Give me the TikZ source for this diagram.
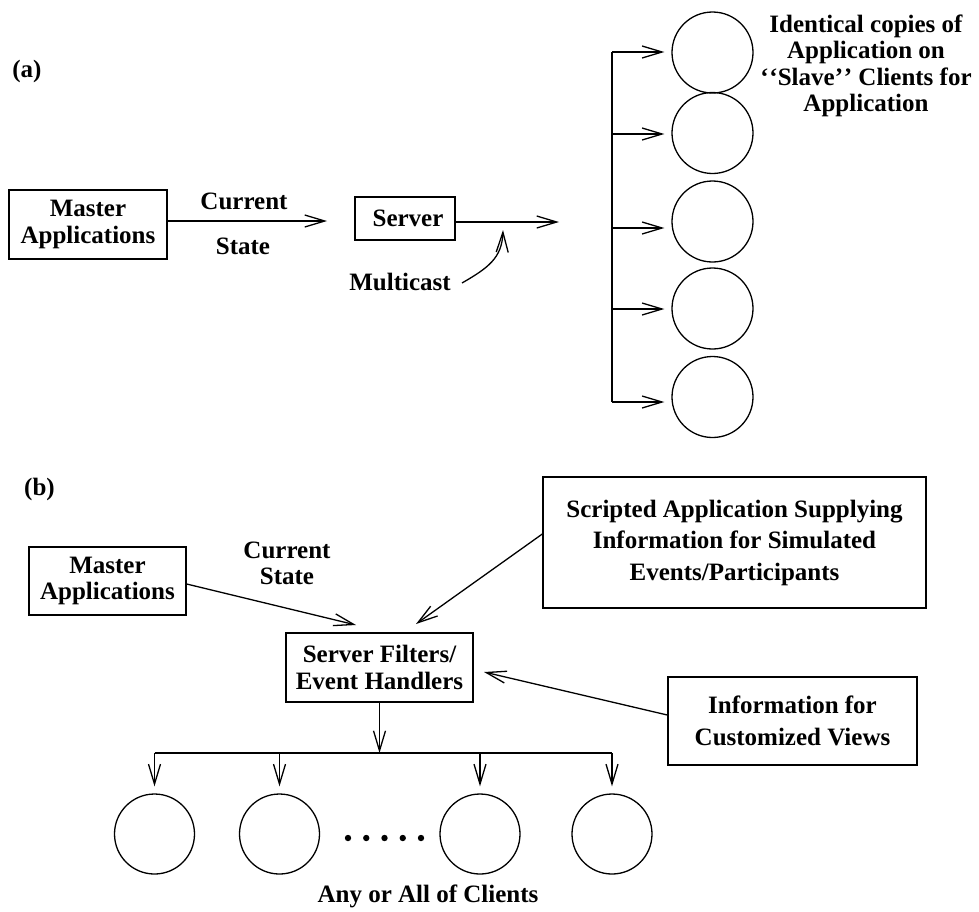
\documentclass[tikz,border=0pt]{standalone}
\usepackage{fontspec}
\setmainfont{Liberation Serif}
\usetikzlibrary{arrows.meta,calc}
\begin{document}
\begin{tikzpicture}[x=0.5pt,y=-0.5pt,
  every node/.style={font=\fontsize{12.5pt}{13.25pt}\selectfont\bfseries, inner sep=0pt},
  box/.style={draw, line width=0.7pt, align=center},
  widebox/.style={box, font=\fontsize{12.5pt}{15.75pt}\selectfont\bfseries},
  client/.style={draw, circle, line width=0.65pt, minimum size=40.5pt},
  arr/.style={-{Straight Barb[length=10pt,width=6pt]}, line width=0.65pt},
  wire/.style={line width=0.65pt},
  lab/.style={align=center}]
\useasboundingbox (0,0) rectangle (979,911);

% ---------------- (a) ----------------
\node (la) at (27,71) {(a)};
\node[box, minimum width=79pt, minimum height=34.5pt] (mA) at (88,224.5) {Master\\Applications};
\node[box, minimum width=50pt, minimum height=21.5pt] (srv) at (405,218.5) {\hspace*{3pt}Server};
\node[anchor=base] (cur) at (244,209) {Current};
\node[anchor=base] (st) at (243,254) {State};
\node[anchor=base] (mc) at (400,290) {Multicast};
\coordinate (c1) at (327,221);
\coordinate (c2) at (559,222);
\draw[arr] (mA.east |- c1) -- (c1);
\draw[arr] (srv.east |- c2) -- (c2);
\coordinate (mcS) at (462,283);
\coordinate (mcE) at (503,230);
\draw[arr] (mcS) .. controls (488,268) and (502,258) .. (mcE);

\foreach \i/\y/\ay in {1/52.5/52, 2/133/134, 3/221.5/228, 4/308.5/309, 5/397/402} {
  \node[client] (ca\i) at (712.5,\y) {};
  \coordinate (ba\i) at (612,\ay);
  \draw[arr, shorten >=3.5pt] (ba\i) -- (ba\i -| ca\i.west);
}
\draw[wire] (ba1) -- (ba5);

\node[lab] (ident) at (866,66) {Identical copies of\\Application on\\‘\kern0.4pt‘Slave’\kern0.4pt’ Clients for\\Application};

% ---------------- (b) ----------------
\node (lb) at (39.5,489.5) {(b)};
\node[box, minimum width=78.5pt, minimum height=34pt] (mB) at (107.5,581) {Master\\Applications};
\node[lab] (cs) at (287,563.5) {Current\\State};
\node[widebox, minimum width=191.5pt, minimum height=65.5pt] (scr) at (734.5,542.5) {Scripted Application Supplying\\Information for Simulated\\Events/Participants};
\node[box, minimum width=93.5pt, minimum height=34.5pt] (sf) at (379.5,667.5) {Server Filters/\\Event Handlers};
\node[widebox, minimum width=124.5pt, minimum height=44pt] (info) at (792.5,721) {Information for\\Customized Views};

\coordinate (t1) at (356,625);
\coordinate (t2) at (416,624);
\coordinate (t3) at (484,672);
\draw[arr] ([yshift=-1.5pt]mB.east) -- (t1);
\draw[arr] ([yshift=4.25pt]scr.west) -- (t2);
\draw[arr] ([yshift=3pt]info.west) -- (t3);

\coordinate (trL) at (154.5,753);
\coordinate (trR) at (612,753);
\draw[wire] (trL) -- (trR);
\draw[arr] (sf.south) -- (sf.south |- trL);

\foreach \i/\x in {1/154.5,2/279.5,3/480,4/612} {
  \node[client, minimum size=40pt] (cb\i) at (\x,834) {};
  \draw[arr, shorten >=3.5pt] (cb\i.north |- trL) -- (cb\i.north);
}
\foreach \k in {0,...,4} \fill (348+18.25*\k,838) circle (1.6pt);

\node[anchor=base] (any) at (428,902) {Any or All of Clients};
\end{tikzpicture}
\end{document}
